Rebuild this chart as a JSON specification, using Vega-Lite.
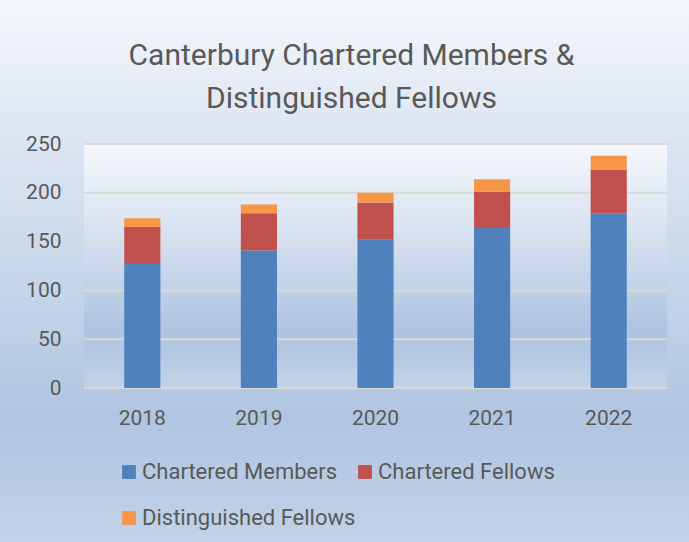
{
  "$schema": "https://vega.github.io/schema/vega-lite/v6.json",
  "width": 689,
  "height": 542,
  "autosize": {"type": "none"},
  "padding": 0,
  "background": "#ffffff",
  "view": {
    "stroke": null,
    "fill": {
      "gradient": "linear",
      "x1": 0, "y1": 0, "x2": 0, "y2": 1,
      "stops": [
        {"offset": 0, "color": "#f5f8fc"},
        {"offset": 0.18, "color": "#e3eaf4"},
        {"offset": 0.45, "color": "#cddaec"},
        {"offset": 0.77, "color": "#b0c5e1"},
        {"offset": 1, "color": "#c2d2e8"}
      ]
    }
  },
  "title": {
    "text": ["Canterbury Chartered Members &", "Distinguished Fellows"],
    "font": "Roboto",
    "fontSize": 30,
    "fontWeight": "normal",
    "color": "#595959",
    "lineHeight": 43,
    "anchor": "middle",
    "dx": 7,
    "offset": -114
  },
  "datasets": {
    "counts": [
      {"year": "2018", "category": "Chartered Members", "order": 1, "count": 127},
      {"year": "2018", "category": "Chartered Fellows", "order": 2, "count": 38},
      {"year": "2018", "category": "Distinguished Fellows", "order": 3, "count": 9},
      {"year": "2019", "category": "Chartered Members", "order": 1, "count": 141},
      {"year": "2019", "category": "Chartered Fellows", "order": 2, "count": 38},
      {"year": "2019", "category": "Distinguished Fellows", "order": 3, "count": 9},
      {"year": "2020", "category": "Chartered Members", "order": 1, "count": 152},
      {"year": "2020", "category": "Chartered Fellows", "order": 2, "count": 38},
      {"year": "2020", "category": "Distinguished Fellows", "order": 3, "count": 10},
      {"year": "2021", "category": "Chartered Members", "order": 1, "count": 164},
      {"year": "2021", "category": "Chartered Fellows", "order": 2, "count": 37},
      {"year": "2021", "category": "Distinguished Fellows", "order": 3, "count": 13},
      {"year": "2022", "category": "Chartered Members", "order": 1, "count": 179},
      {"year": "2022", "category": "Chartered Fellows", "order": 2, "count": 45},
      {"year": "2022", "category": "Distinguished Fellows", "order": 3, "count": 14}
    ],
    "gridlines": [
      {"count": 0}, {"count": 50}, {"count": 100}, {"count": 150}, {"count": 200}, {"count": 250}
    ],
    "plotarea": [
      {"from": "2018", "to": "2022", "low": 0, "high": 250}
    ]
  },
  "layer": [
    {
      "data": {"name": "plotarea"},
      "mark": {
        "type": "rect",
        "color": {
          "gradient": "linear",
          "x1": 0, "y1": 0, "x2": 0, "y2": 1,
          "stops": [
            {"offset": 0, "color": "#f5f8fc"},
            {"offset": 0.45, "color": "#d0dced"},
            {"offset": 0.77, "color": "#adc3e0"},
            {"offset": 1, "color": "#c2d2e8"}
          ]
        }
      },
      "encoding": {
        "x": {"field": "from", "type": "nominal", "bandPosition": -1.113},
        "x2": {"field": "to", "bandPosition": 2.113},
        "y": {"field": "low", "type": "quantitative"},
        "y2": {"field": "high"}
      }
    },
    {
      "data": {"name": "gridlines"},
      "mark": {"type": "rule", "color": "#d9d9d9", "strokeWidth": 2},
      "encoding": {
        "x": {"datum": "2018", "type": "nominal", "bandPosition": -1.113},
        "x2": {"datum": "2022", "bandPosition": 2.113},
        "y": {"field": "count", "type": "quantitative"}
      }
    },
    {
      "data": {"name": "counts"},
      "mark": {"type": "bar"},
      "encoding": {
        "x": {
          "field": "year",
          "type": "nominal",
          "scale": {"range": [84, 667], "paddingInner": 0.69, "paddingOuter": 0.345},
          "axis": {
            "title": null,
            "labelAngle": 0,
            "labelAlign": "center",
            "bandPosition": 0.5,
            "domain": false,
            "ticks": false,
            "tickSize": 0,
            "grid": false,
            "offset": -154,
            "labelFont": "Roboto",
            "labelFontSize": 21,
            "labelColor": "#595959",
            "labelPadding": 30
          }
        },
        "y": {
          "field": "count",
          "type": "quantitative",
          "stack": "zero",
          "scale": {"domain": [0, 250], "nice": false, "range": [388, 144]},
          "axis": {
            "title": null,
            "values": [0, 50, 100, 150, 200, 250],
            "domain": false,
            "ticks": false,
            "tickSize": 0,
            "grid": false,
            "offset": -84,
            "labelFont": "Roboto",
            "labelFontSize": 21,
            "labelColor": "#595959",
            "labelPadding": 23
          }
        },
        "color": {
          "field": "category",
          "type": "nominal",
          "scale": {
            "domain": ["Chartered Members", "Chartered Fellows", "Distinguished Fellows"],
            "range": ["#4f81bd", "#c0504d", "#f79646"]
          },
          "legend": {
            "title": null,
            "orient": "none",
            "legendX": 118,
            "legendY": 461,
            "direction": "horizontal",
            "columns": 2,
            "gridAlign": "none",
            "columnPadding": -2,
            "rowPadding": 24,
            "symbolType": "square",
            "symbolSize": 190,
            "symbolStrokeWidth": 0,
            "labelOffset": 2,
            "labelFont": "Roboto",
            "labelFontSize": 22,
            "labelColor": "#595959",
            "labelLimit": 400
          }
        },
        "order": {"field": "order", "type": "quantitative"}
      }
    }
  ]
}
